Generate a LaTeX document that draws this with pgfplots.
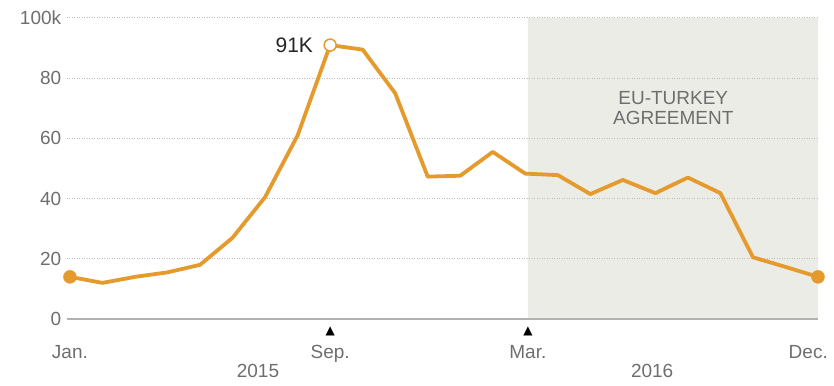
\documentclass[border=0pt]{standalone}
\usepackage{fontspec}
\setmainfont{Liberation Sans}
\newfontfamily\symfont{DejaVu Sans}
\usepackage{pgfplots}
\pgfplotsset{compat=1.18}
\definecolor{lineor}{HTML}{E49A2C}
\definecolor{shade}{HTML}{ECECE7}
\definecolor{txtgray}{HTML}{6E6E6E}
\definecolor{gridgray}{HTML}{BDBDBD}
\pgfplotstableread{
x y
0 14
1 12
2 14
3 15.5
4 18
5 27
6 40.5
7 61
8 91
9 89.5
10 75
11 47.3
12 47.6
13 55.5
14 48.3
15 47.8
16 41.5
17 46.2
18 41.8
19 47
20 41.8
21 20.5
22 17.3
23 14
}\arrivals
\begin{document}
\begin{tikzpicture}
\begin{axis}[
 at={(0,0)}, anchor=south west,
 scale only axis, width=751.3pt, height=301pt,
 xmin=-0.1, xmax=23, ymin=0, ymax=100,
 set layers, clip=false,
 axis line style={draw=none},
 xtick=\empty,
 ytick={0,20,40,60,80,100},
 yticklabels={0,20,40,60,80,100k},
 major tick length=0pt,
 ymajorgrids,
 grid style={gridgray, line width=1pt, dash pattern=on 1pt off 1.5pt},
 yticklabel style={txtgray, font=\fontsize{19}{19}\selectfont, xshift=-2pt},
]
\addplot[fill=shade, draw=none, on layer=axis background, forget plot] coordinates {(14.08,0) (14.08,100) (23,100) (23,0)} \closedcycle;
\addplot[draw=gray!60, line width=1.2pt, forget plot] coordinates {(-0.1,0) (23,0)};
\addplot[lineor, line width=3.8pt, line join=round] table[x=x,y=y] {\arrivals};
\addplot[only marks, mark=*, mark size=6.5pt, lineor] coordinates {(0,14) (23,14)};
\addplot[only marks, mark=*, mark size=6pt, mark options={fill=white, draw=lineor, line width=1.5pt}] coordinates {(8,91)};
\node[anchor=east, inner sep=0pt, text=black!85, font=\fontsize{21}{21}\selectfont] at (axis cs:8,91) [xshift=-17pt] {91K};
\node[align=center, text=txtgray, font=\fontsize{19}{20.5}\selectfont] at (axis cs:18.55,70) {EU-TURKEY\\AGREEMENT};
\node[anchor=north, inner sep=0pt, text=txtgray, font=\fontsize{19}{19}\selectfont] at (axis cs:0,0) [yshift=-26pt] {Jan.};
\node[anchor=north, inner sep=0pt, text=txtgray, font=\fontsize{19}{19}\selectfont] at (axis cs:8,0) [yshift=-26pt] {Sep.};
\node[anchor=north, inner sep=0pt, text=txtgray, font=\fontsize{19}{19}\selectfont] at (axis cs:14.08,0) [yshift=-26pt] {Mar.};
\node[anchor=north, inner sep=0pt, text=txtgray, font=\fontsize{19}{19}\selectfont] at (axis cs:22.7,0) [yshift=-26pt] {Dec.};
\node[inner sep=0pt, text=black, font=\symfont\fontsize{12}{12}\selectfont] at (axis cs:8,0) [yshift=-12pt] {▲};
\node[inner sep=0pt, text=black, font=\symfont\fontsize{12}{12}\selectfont] at (axis cs:14.08,0) [yshift=-12pt] {▲};
\node[anchor=north, inner sep=0pt, text=txtgray, font=\fontsize{19}{19}\selectfont] at (axis cs:5.78,0) [yshift=-45pt] {2015};
\node[anchor=north, inner sep=0pt, text=txtgray, font=\fontsize{19}{19}\selectfont] at (axis cs:17.9,0) [yshift=-45pt] {2016};
\end{axis}
\pgfresetboundingbox
\useasboundingbox (-66.7pt,-66pt) rectangle (767.3pt,319pt);
\end{tikzpicture}
\end{document}
